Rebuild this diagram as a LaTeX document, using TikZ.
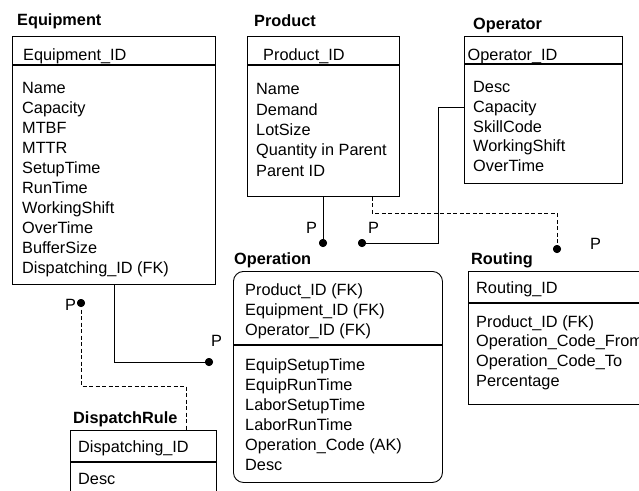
\documentclass[tikz,border=0pt]{standalone}
\usepackage{fontspec}
\setmainfont{Liberation Sans}
\begin{document}
\begin{tikzpicture}[x=1pt,y=-1pt,
  box/.style={draw=black, line width=0.9pt, fill=white, inner sep=0pt, anchor=north west},
  txt/.style={inner sep=0pt, anchor=base west, font=\fontsize{16.3}{20}\selectfont},
  ttl/.style={inner sep=0pt, anchor=base west, font=\fontsize{16.3}{20}\selectfont\bfseries},
  divider/.style={line width=1.2pt},
  link/.style={line width=0.9pt},
  fklink/.style={line width=0.9pt, dash pattern=on 4pt off 2.5pt},
  dot/.style={circle, fill=black, inner sep=0pt, minimum size=8pt}]
\useasboundingbox (0,0) rectangle (639,490);
\clip (0,0) rectangle (639,490);
% ---------- boxes ----------
\node[box, minimum width=203pt, minimum height=248pt] (equip) at (12,36) {};
\node[box, minimum width=152pt, minimum height=160pt] (prod) at (247,36) {};
\node[box, minimum width=158pt, minimum height=147pt] (oper) at (464,36) {};
\node[box, rounded corners=10pt, minimum width=209pt, minimum height=211pt] (opn) at (233,271) {};
\node[box, minimum width=220pt, minimum height=133pt] (rout) at (468,271) {};
\node[box, minimum width=146pt, minimum height=80pt] (disp) at (70,430) {};
% ---------- dividers ----------
\draw[divider] ([yshift=-29pt]equip.north west) -- ([yshift=-29pt]equip.north east);
\draw[divider] ([yshift=-29pt]prod.north west) -- ([yshift=-29pt]prod.north east);
\draw[divider] ([yshift=-28pt]oper.north west) -- ([yshift=-28pt]oper.north east);
\draw[divider] ([yshift=-74pt]opn.north west) -- ([yshift=-74pt]opn.north east);
\draw[divider] ([yshift=-32pt]rout.north west) -- ([yshift=-32pt]rout.north east);
\draw[divider] ([yshift=-32pt]disp.north west) -- ([yshift=-32pt]disp.north east);
% ---------- titles ----------
\node[ttl] (tequip) at (17,25.5) {Equipment};
\node[ttl] (tprod) at (254,26.5) {Product};
\node[ttl] (toper) at (473,29) {Operator};
\node[ttl] (topn) at (234,264) {Operation};
\node[ttl] (trout) at (471,264) {Routing};
\node[ttl] (tdisp) at (73,423) {DispatchRule};
% ---------- keys ----------
\node[txt] (kequip) at (23,60) {Equipment\_ID};
\node[txt] (kprod) at (263,60) {Product\_ID};
\node[txt] (koper) at (467.5,60) {Operator\_ID};
\node[txt] (krout) at (476,293) {Routing\_ID};
\node[txt] (kdisp) at (78,452) {Dispatching\_ID};
\foreach \t [count=\i] in {Product\_ID (FK),Equipment\_ID (FK),Operator\_ID (FK)}
  \node[txt] (kopn\i) at (245,{275+\i*20}) {\t};
% ---------- attributes ----------
\foreach \t [count=\i] in {Name,Capacity,MTBF,MTTR,SetupTime,RunTime,WorkingShift,OverTime,BufferSize,Dispatching\_ID (FK)}
  \node[txt] (aequip\i) at (22,{73.5+\i*20}) {\t};
\foreach \t [count=\i] in {Name,Demand,LotSize,Quantity in Parent,Parent ID}
  \node[txt] (aprod\i) at (256,{74.3+\i*20.4}) {\t};
\foreach \t [count=\i] in {Desc,Capacity,SkillCode,WorkingShift,OverTime}
  \node[txt] (aoper\i) at (473,{72.7+\i*19.8}) {\t};
\foreach \t [count=\i] in {EquipSetupTime,EquipRunTime,LaborSetupTime,LaborRunTime,Operation\_Code (AK),Desc}
  \node[txt] (aopn\i) at (245,{350+\i*20}) {\t};
\foreach \t [count=\i] in {Product\_ID (FK),Operation\_Code\_From,Operation\_Code\_To,Percentage}
  \node[txt] (arout\i) at (476,{307.5+\i*19.7}) {\t};
\node[txt] (adisp1) at (78,484) {Desc};
% ---------- connectors ----------
\node[dot] (d1) at (209,362) {};
\node[dot] (d2) at (81,303) {};
\node[dot] (d3) at (323,243) {};
\node[dot] (d4) at (362,243) {};
\node[dot] (d5) at (557,249) {};
\coordinate (k2) at (81,386);
\coordinate (k4) at (438,243);
\coordinate (k5) at (557,213);
\draw[link] ([xshift=102pt]equip.south west) |- (d1.center);
\draw[fklink] (d2.center) -- (k2) -| ([xshift=116pt]disp.north west);
\draw[link] ([xshift=76pt]prod.south west) -- (d3.center);
\draw[link] ([yshift=-71pt]oper.north west) -| (k4) -- (d4.center);
\draw[fklink] ([xshift=125pt]prod.south west) |- (k5) -- (d5.center);
\node[dot] at (d1) {};
\node[dot] at (d2) {};
\node[dot] at (d3) {};
\node[dot] at (d4) {};
\node[dot] at (d5) {};
% ---------- labels ----------
\node[txt] (p1) at (211,346) {P};
\node[txt] (p2) at (65,310) {P};
\node[txt] (p3) at (306,233) {P};
\node[txt] (p4) at (368,233) {P};
\node[txt] (p5) at (590,249) {P};
\end{tikzpicture}
\end{document}
